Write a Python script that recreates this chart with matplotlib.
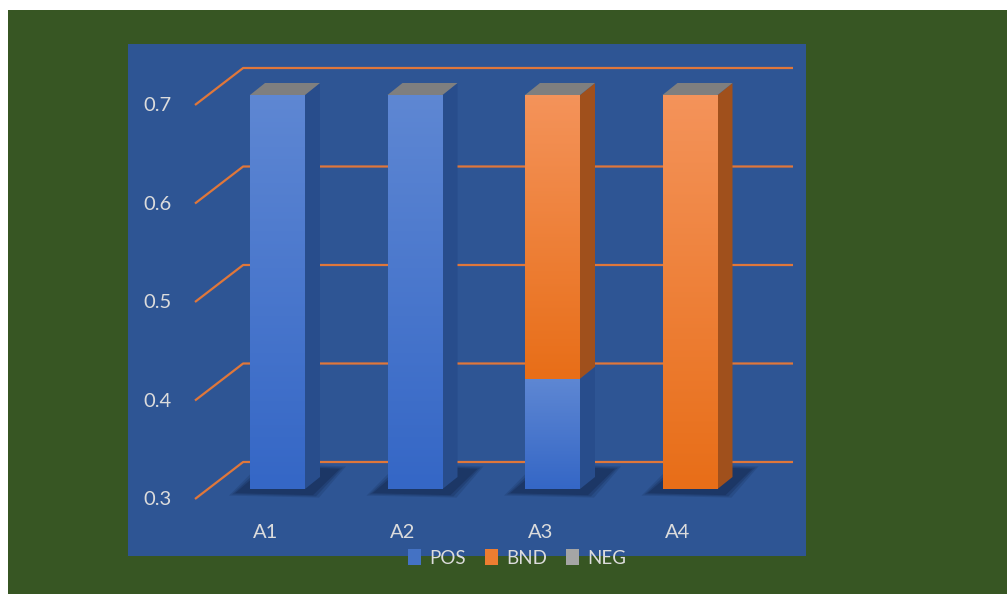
import numpy as np
import matplotlib.pyplot as plt
from matplotlib.patches import Polygon, Rectangle
from matplotlib.colors import LinearSegmentedColormap

plt.rcParams['font.family'] = ['Lato', 'DejaVu Sans']

categories = ['A1', 'A2', 'A3', 'A4']
series_names = ['POS', 'BND', 'NEG']
pos = [0.70, 0.70, 0.412, 0.00]
bnd = [0.00, 0.00, 0.288, 0.70]
neg = [0.00, 0.00, 0.00, 0.00]
yticks = [0.3, 0.4, 0.5, 0.6, 0.7]

# colours: (front top, front bottom, side)
pos_col = ('#5E87D3', '#3567C6', '#284D8C')
bnd_col = ('#F4935A', '#E86E18', '#A0501C')
neg_col = '#7F7F7F'
legend_cols = ['#4472C4', '#ED7D31', '#A5A5A5']
grid_col = '#E0773A'
txt_col = '#DCDCDC'

W, H = 1007, 594
fig = plt.figure(figsize=(W / 100, H / 100), dpi=100)
fig.patch.set_facecolor('white')
fig.patches.append(Rectangle((8 / W, 0), 1, (H - 10) / H, transform=fig.transFigure,
                             facecolor='#375623', edgecolor='none', zorder=-10))

ax = fig.add_axes([128 / W, (H - 556) / H, 678 / W, 512 / H])
ax.set_facecolor('#2E5594')
for s in ax.spines.values():
    s.set_visible(False)
ax.set_xticks([])
ax.set_yticks([])

# pixel -> data scale (category step 137.5px, 0.1 value = 98.5px)
px_x = 1 / 137.5
px_y = 0.1 / 98.5

half = 27.5 * px_x
ddx, ddy = 15 * px_x, 12 * px_y
base = yticks[0]

# gridlines with perspective left edge
for v in yticks:
    xs = [-0.6, -0.25, (793 - 277.5) * px_x]
    ys = [v - 10 * px_y, v + 27 * px_y, v + 27 * px_y]
    ax.plot(xs, ys, color=grid_col, lw=1.6, zorder=1, solid_capstyle='butt')
    ax.text((157 - 277.5) * px_x, v - 11 * px_y, f'{v:.1f}', color=txt_col,
            fontsize=14.5, ha='center', va='center', zorder=5)


def grad(x0, x1, y0, y1, c_top, c_bot, z):
    cmap = LinearSegmentedColormap.from_list('g', [c_bot, c_top])
    img = np.linspace(0, 1, 64).reshape(-1, 1)
    ax.imshow(img, cmap=cmap, extent=(x0, x1, y0, y1), origin='lower',
              aspect='auto', interpolation='bilinear', zorder=z)


for i, cat in enumerate(categories):
    x0, x1 = i - half, i + half
    # soft shadow on the floor
    for k, a in enumerate([0.2, 0.28, 0.4]):
        g = (3 - k) * 3
        shp = [(x0 - (12 + g) * px_x, base - (3 + g * 0.4) * px_y),
               (x1 + (5 + g) * px_x, base - (5 + g * 0.4) * px_y),
               (x1 + (32 + g) * px_x, base + (19 + g * 0.4) * px_y),
               (x0 + (20 - g) * px_x, base + (22 + g * 0.4) * px_y)]
        ax.add_patch(Polygon(shp, closed=True, facecolor='#14284F', edgecolor='none',
                             alpha=a, zorder=2))

    bottom = 0.0
    top = base
    for vals, col in [(pos, pos_col), (bnd, bnd_col)]:
        lo, hi = bottom, bottom + vals[i]
        bottom = hi
        lo = max(lo, base)
        if hi <= lo:
            continue
        side = [(x1, lo), (x1 + ddx, lo + ddy), (x1 + ddx, hi + ddy), (x1, hi)]
        ax.add_patch(Polygon(side, closed=True, facecolor=col[2], edgecolor='none', zorder=3))
        grad(x0, x1, lo, hi, col[0], col[1], 4)
        top = hi
    top += neg[i]
    cap = [(x0, top), (x1, top), (x1 + ddx, top + ddy), (x0 + ddx, top + ddy)]
    ax.add_patch(Polygon(cap, closed=True, facecolor=neg_col, edgecolor='none', zorder=3))

    ax.text(i - 12 * px_x, 0.7 - (532 - 95) * px_y, cat, color=txt_col, fontsize=14.5,
            ha='center', va='center', zorder=5)

ax.set_xlim((128 - 277.5) * px_x, (806 - 277.5) * px_x)
ax.set_ylim(0.7 - (556 - 95) * px_y, 0.7 + (95 - 44) * px_y)

handles = [Rectangle((0, 0), 1, 1, facecolor=c, edgecolor='none') for c in legend_cols]
fig.legend(handles, series_names, loc='center', bbox_to_anchor=(517 / W, 1 - 558 / H),
           ncol=3, frameon=False, fontsize=13.5, labelcolor=txt_col, handlelength=0.7,
           handleheight=0.95, handletextpad=0.45, columnspacing=1.0, borderpad=0)

fig.savefig('out.png', dpi=100)
